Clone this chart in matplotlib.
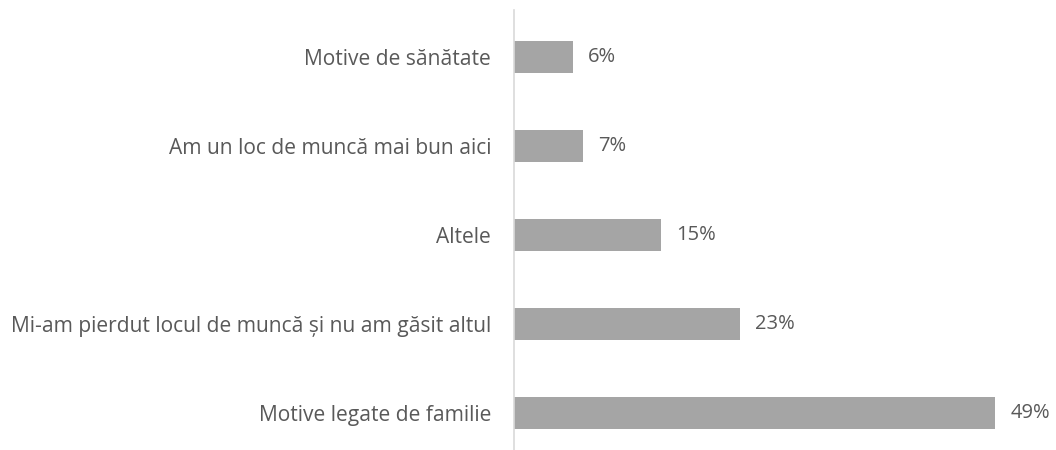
import matplotlib
matplotlib.use("Agg")
import matplotlib.pyplot as plt

categories = ["Motive legate de familie",
              "Mi-am pierdut locul de muncă și nu am găsit altul",
              "Altele",
              "Am un loc de muncă mai bun aici",
              "Motive de sănătate"]
values = [49, 23, 15, 7, 6]
labels = ["49%", "23%", "15%", "7%", "6%"]

plt.rcParams['font.family'] = ['Open Sans', 'DejaVu Sans']
text_color = "#595959"

fig = plt.figure(figsize=(10.56, 4.5), dpi=100)
ax = fig.add_axes([514 / 1056, 0, (1040 - 514) / 1056, 1 - 10 / 450])

pos = range(len(categories))
bars = ax.barh(pos, values, height=0.35, color="#A5A5A5")
ax.bar_label(bars, labels=labels, padding=11, fontsize=14.5, color=text_color)

ax.set_xlim(0, (1040 - 514) / 9.82)
ax.set_ylim(-0.416, 4.528)
ax.set_yticks(list(pos))
ax.set_yticklabels(categories, fontsize=15.1, color=text_color)
ax.tick_params(axis="y", length=0, pad=16.5)
ax.set_xticks([])

for s in ["top", "right", "bottom"]:
    ax.spines[s].set_visible(False)
ax.spines["left"].set_color("#D9D9D9")
ax.spines["left"].set_linewidth(1.2)

fig.savefig("out.png", dpi=100)
